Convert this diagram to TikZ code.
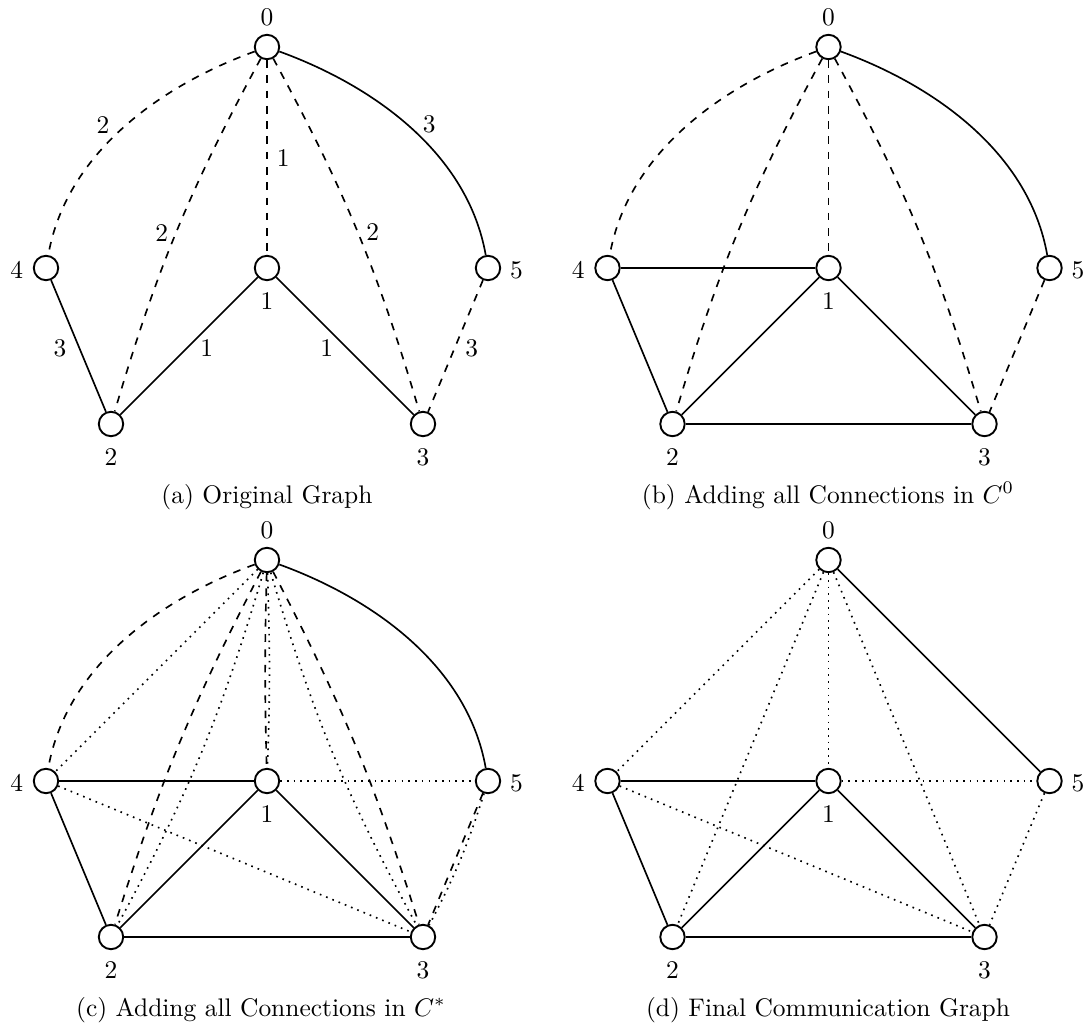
\documentclass[tikz,border=0pt]{standalone}
\tikzset{
  vert/.style={circle, draw, line width=0.75pt, minimum size=9.6pt, inner sep=0pt, fill=white},
  nlbl/.style={inner sep=0pt},
  elbl/.style={inner sep=0pt},
  edge/.style={line width=0.65pt},
  dashedge/.style={edge, dashed},
  dotedge/.style={edge, dotted},
  captxt/.style={inner sep=0pt, anchor=base},
  arcl/.style={out=200, in=80, looseness=0.9},
  arcr/.style={out=-20, in=100, looseness=0.9},
}
\newcommand{\graphnodes}[1]{%
  \node[vert] (#1v0) at (267,-47) {};
  \node[vert] (#1v1) at (267,-268) {};
  \node[vert] (#1v4) at (46,-268) {};
  \node[vert] (#1v5) at (488,-268) {};
  \node[vert] (#1v2) at (111,-424) {};
  \node[vert] (#1v3) at (423,-424) {};
  \node[nlbl] (#1l0) at (267,-17) {0};
  \node[nlbl] (#1l1) at (267,-301) {1};
  \node[nlbl] (#1l4) at (16.7,-270) {4};
  \node[nlbl] (#1l5) at (516.5,-270) {5};
  \node[nlbl] (#1l2) at (111,-457) {2};
  \node[nlbl] (#1l3) at (423,-457) {3};
}
\begin{document}
\begin{tikzpicture}[x=0.393pt,y=0.393pt]
\useasboundingbox (0,0) rectangle (1088,-1030);

% ---------- (a) ----------
\begin{scope}
  \graphnodes{a}
  \draw[dashedge] (av0) to[arcl] (av4);
  \draw[dashedge] (av0) to[bend right=6] (av2);
  \draw[dashedge] (av0) -- (av1);
  \draw[dashedge] (av0) to[bend left=6] (av3);
  \draw[dashedge] (av5) -- (av3);
  \draw[edge] (av0) to[arcr] (av5);
  \draw[edge] (av4) -- (av2);
  \draw[edge] (av2) -- (av1);
  \draw[edge] (av1) -- (av3);
  \node[elbl] (aw04) at (103,-125) {2};
  \node[elbl] (aw02) at (161.7,-233) {2};
  \node[elbl] (aw01) at (283.3,-158.3) {1};
  \node[elbl] (aw03) at (372.7,-231.7) {2};
  \node[elbl] (aw05) at (429.3,-124) {3};
  \node[elbl] (aw42) at (60,-348.3) {3};
  \node[elbl] (aw21) at (206.7,-348.3) {1};
  \node[elbl] (aw13) at (326.7,-348.3) {1};
  \node[elbl] (aw53) at (471.7,-348.3) {3};
\end{scope}
\node[captxt] (capa) at (267,-503) {(a) Original Graph};

% ---------- (b) ----------
\begin{scope}[shift={(561.5,0)}]
  \graphnodes{b}
  \draw[dashedge] (bv0) to[arcl] (bv4);
  \draw[dashedge] (bv0) to[bend right=6] (bv2);
  \draw[dashedge] (bv0) -- (bv1);
  \draw[dashedge] (bv0) to[bend left=6] (bv3);
  \draw[dashedge] (bv5) -- (bv3);
  \draw[edge] (bv0) to[arcr] (bv5);
  \draw[edge] (bv4) -- (bv1);
  \draw[edge] (bv4) -- (bv2);
  \draw[edge] (bv2) -- (bv1);
  \draw[edge] (bv1) -- (bv3);
  \draw[edge] (bv2) -- (bv3);
\end{scope}
\node[captxt] (capb) at (828,-503) {(b) Adding all Connections in $C^0$};

% ---------- (c) ----------
\begin{scope}[shift={(0,-513)}]
  \graphnodes{c}
  \draw[dashedge] (cv0) to[arcl] (cv4);
  \draw[dashedge] (cv0) to[bend right=5] (cv2);
  \draw[dashedge] (cv0) to[bend right=1.5] (cv1);
  \draw[dashedge] (cv0) to[bend left=5] (cv3);
  \draw[dashedge] (cv5) -- (cv3);
  \draw[edge] (cv0) to[arcr] (cv5);
  \draw[edge] (cv4) -- (cv1);
  \draw[edge] (cv4) -- (cv2);
  \draw[edge] (cv2) -- (cv1);
  \draw[edge] (cv1) -- (cv3);
  \draw[edge] (cv2) -- (cv3);
  \draw[dotedge] (cv0) -- (cv4);
  \draw[dotedge] (cv0) to[bend left=6] (cv2);
  \draw[dotedge] (cv0) to[bend left=2] (cv1);
  \draw[dotedge] (cv0) to[bend right=6] (cv3);
  \draw[dotedge] (cv1) -- (cv5);
  \draw[dotedge] (cv4) -- (cv3);
  \draw[dotedge] (cv5) to[bend left=5] (cv3);
\end{scope}
\node[captxt] (capc) at (261,-1016) {(c) Adding all Connections in $C^*$};

% ---------- (d) ----------
\begin{scope}[shift={(561.5,-513)}]
  \graphnodes{d}
  \draw[edge] (dv0) -- (dv5);
  \draw[edge] (dv4) -- (dv1);
  \draw[edge] (dv4) -- (dv2);
  \draw[edge] (dv2) -- (dv1);
  \draw[edge] (dv1) -- (dv3);
  \draw[edge] (dv2) -- (dv3);
  \draw[dotedge] (dv0) -- (dv4);
  \draw[dotedge] (dv0) -- (dv2);
  \draw[dotedge] (dv0) -- (dv1);
  \draw[dotedge] (dv0) -- (dv3);
  \draw[dotedge] (dv1) -- (dv5);
  \draw[dotedge] (dv4) -- (dv3);
  \draw[dotedge] (dv5) -- (dv3);
\end{scope}
\node[captxt] (capd) at (828,-1016) {(d) Final Communication Graph};
\end{tikzpicture}
\end{document}
